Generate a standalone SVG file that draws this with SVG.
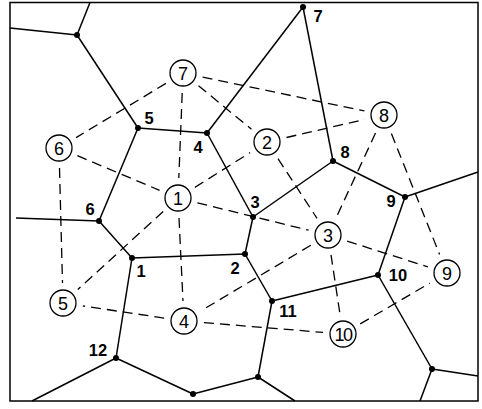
<svg xmlns="http://www.w3.org/2000/svg" width="482" height="409" viewBox="0 0 482 409">
<style>
.frame{fill:none;stroke:#000;stroke-width:1.5}
.edge{stroke:#000;stroke-width:1.5;fill:none}
.dash{stroke:#000;stroke-width:1.3;stroke-dasharray:10 6;fill:none}
.site{fill:#fff;stroke:#000;stroke-width:1.3}
.dot{fill:#000}
.vl{font-family:"Liberation Sans",Arial,sans-serif;font-weight:bold;font-size:16.5px;text-anchor:middle;fill:#000}
.sl{font-family:"Liberation Sans",Arial,sans-serif;font-size:18px;text-anchor:middle;fill:#000}
</style>
<rect width="482" height="409" fill="#fff"/>
<rect class="frame" x="10" y="2.5" width="468" height="398.5"/>
<g id="connectors">
<g id="voronoi-edges">
<line class="edge" x1="77" y1="35" x2="90" y2="2.5"/>
<line class="edge" x1="77" y1="35" x2="10" y2="28"/>
<line class="edge" x1="77" y1="35" x2="138" y2="128"/>
<line class="edge" x1="138" y1="128" x2="207" y2="133"/>
<line class="edge" x1="138" y1="128" x2="99" y2="221"/>
<line class="edge" x1="207" y1="133" x2="303" y2="7"/>
<line class="edge" x1="207" y1="133" x2="253" y2="217"/>
<line class="edge" x1="303" y1="7" x2="333" y2="161"/>
<line class="edge" x1="333" y1="161" x2="253" y2="217"/>
<line class="edge" x1="333" y1="161" x2="405" y2="197"/>
<line class="edge" x1="405" y1="197" x2="478" y2="172"/>
<line class="edge" x1="405" y1="197" x2="378" y2="275"/>
<line class="edge" x1="253" y1="217" x2="245" y2="254"/>
<line class="edge" x1="245" y1="254" x2="132" y2="258"/>
<line class="edge" x1="245" y1="254" x2="272" y2="301"/>
<line class="edge" x1="132" y1="258" x2="99" y2="221"/>
<line class="edge" x1="132" y1="258" x2="116" y2="358"/>
<line class="edge" x1="99" y1="221" x2="16" y2="218"/>
<line class="edge" x1="272" y1="301" x2="378" y2="275"/>
<line class="edge" x1="272" y1="301" x2="258" y2="377"/>
<line class="edge" x1="378" y1="275" x2="432" y2="369"/>
<line class="edge" x1="432" y1="369" x2="478" y2="376"/>
<line class="edge" x1="432" y1="369" x2="420" y2="401"/>
<line class="edge" x1="116" y1="358" x2="193" y2="394"/>
<line class="edge" x1="116" y1="358" x2="32" y2="401"/>
<line class="edge" x1="193" y1="394" x2="258" y2="377"/>
<line class="edge" x1="258" y1="377" x2="295" y2="401"/>
</g>
<g id="delaunay-edges">
<line class="dash" x1="165.9" y1="83.4" x2="76.1" y2="137.6"/>
<line class="dash" x1="182.2" y1="93" x2="178.8" y2="178"/>
<line class="dash" x1="198.5" y1="85.7" x2="251.5" y2="129.3"/>
<line class="dash" x1="202.6" y1="77.1" x2="364.4" y2="110.9"/>
<line class="dash" x1="77.4" y1="155.7" x2="159.6" y2="190.3"/>
<line class="dash" x1="59.5" y1="168" x2="62.5" y2="283"/>
<line class="dash" x1="194.9" y1="187.4" x2="250.1" y2="152.6"/>
<line class="dash" x1="197.4" y1="202.8" x2="308.6" y2="230.2"/>
<line class="dash" x1="179" y1="218" x2="183" y2="301"/>
<line class="dash" x1="163.2" y1="211.5" x2="77.8" y2="289.5"/>
<line class="dash" x1="286.5" y1="137.5" x2="364.5" y2="119.5"/>
<line class="dash" x1="278" y1="158.7" x2="317" y2="218.3"/>
<line class="dash" x1="375.5" y1="133.1" x2="336.5" y2="216.9"/>
<line class="dash" x1="391.4" y1="133.6" x2="439.6" y2="254.4"/>
<line class="dash" x1="347.1" y1="241.1" x2="427.9" y2="266.9"/>
<line class="dash" x1="310.8" y1="245.3" x2="201.2" y2="310.7"/>
<line class="dash" x1="331" y1="254.8" x2="340" y2="314.2"/>
<line class="dash" x1="164.2" y1="318.1" x2="82.8" y2="305.9"/>
<line class="dash" x1="203.9" y1="322.6" x2="323.1" y2="332.4"/>
<line class="dash" x1="360.2" y1="323.9" x2="429.8" y2="283.1"/>
</g>
</g>
<g id="vertices">
<g id="v-a"><circle class="dot" cx="77" cy="35" r="3"/></g>
<g id="v5"><circle class="dot" cx="138" cy="128" r="3"/><text class="vl" x="149" y="124">5</text></g>
<g id="v4"><circle class="dot" cx="207" cy="133" r="3"/><text class="vl" x="198" y="153">4</text></g>
<g id="v7"><circle class="dot" cx="303" cy="7" r="3"/><text class="vl" x="318" y="22">7</text></g>
<g id="v8"><circle class="dot" cx="333" cy="161" r="3"/><text class="vl" x="345" y="158">8</text></g>
<g id="v9"><circle class="dot" cx="405" cy="197" r="3"/><text class="vl" x="391" y="207">9</text></g>
<g id="v3"><circle class="dot" cx="253" cy="217" r="3"/><text class="vl" x="255" y="208">3</text></g>
<g id="v2"><circle class="dot" cx="245" cy="254" r="3"/><text class="vl" x="235" y="274">2</text></g>
<g id="v1"><circle class="dot" cx="132" cy="258" r="3"/><text class="vl" x="141" y="277">1</text></g>
<g id="v6"><circle class="dot" cx="99" cy="221" r="3"/><text class="vl" x="90" y="215">6</text></g>
<g id="v10"><circle class="dot" cx="378" cy="275" r="3"/><text class="vl" x="398" y="281">10</text></g>
<g id="v11"><circle class="dot" cx="272" cy="301" r="3"/><text class="vl" x="288" y="317">11</text></g>
<g id="v12"><circle class="dot" cx="116" cy="358" r="3"/><text class="vl" x="98" y="356">12</text></g>
<g id="v-b"><circle class="dot" cx="193" cy="394" r="3"/></g>
<g id="v-c"><circle class="dot" cx="432" cy="369" r="3"/></g>
<g id="v-d"><circle class="dot" cx="258" cy="377" r="3"/></g>
</g>
<g id="sites">
<g id="s1"><circle class="site" cx="178" cy="198" r="13"/><text class="sl" x="178" y="204.5">1</text></g>
<g id="s2"><circle class="site" cx="267" cy="142" r="13"/><text class="sl" x="267" y="148.5">2</text></g>
<g id="s3"><circle class="site" cx="328" cy="235" r="13"/><text class="sl" x="328" y="241.5">3</text></g>
<g id="s4"><circle class="site" cx="184" cy="321" r="13"/><text class="sl" x="184" y="327.5">4</text></g>
<g id="s5"><circle class="site" cx="63" cy="303" r="13"/><text class="sl" x="63" y="309.5">5</text></g>
<g id="s6"><circle class="site" cx="59" cy="148" r="13"/><text class="sl" x="59" y="154.5">6</text></g>
<g id="s7"><circle class="site" cx="183" cy="73" r="13"/><text class="sl" x="183" y="79.5">7</text></g>
<g id="s8"><circle class="site" cx="384" cy="115" r="13"/><text class="sl" x="384" y="121.5">8</text></g>
<g id="s9"><circle class="site" cx="447" cy="273" r="13"/><text class="sl" x="447" y="279.5">9</text></g>
<g id="s10"><circle class="site" cx="343" cy="334" r="13"/><text class="sl" x="343" y="340.5" letter-spacing="-1.5">10</text></g>
</g>
</svg>
